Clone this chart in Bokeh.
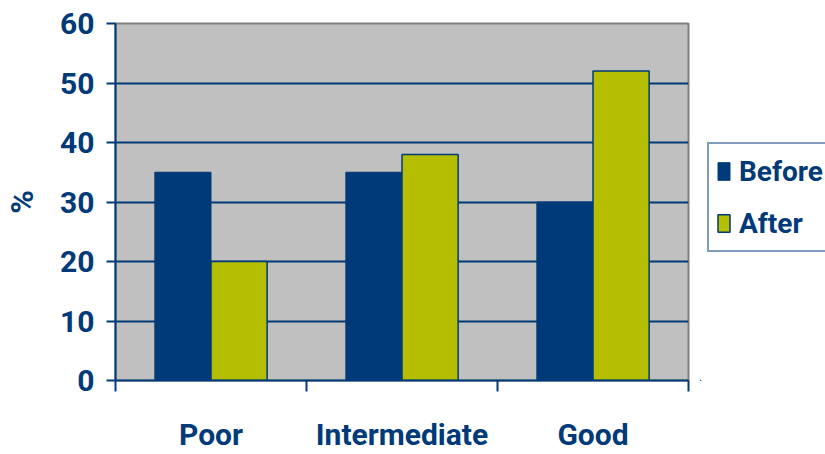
from bokeh.plotting import figure
from bokeh.layouts import row
from bokeh.models import Range1d, LinearAxis, FixedTicker, Legend, LegendItem, ColumnDataSource
from bokeh.transform import dodge
from bokeh.embed import file_html
from bokeh.resources import INLINE

categories = ["Poor", "Intermediate", "Good"]
before = [35, 35, 30]
after = [20, 38, 52]
y_ticks = [0, 10, 20, 30, 40, 50, 60]
series_names = ["Before", "After"]

NAVY = "#003A78"
GREEN = "#B5BE00"
GRAY = "#C0C0C0"
FONT = "Roboto"

n = len(categories)
centers = [i + 0.5 for i in range(n)]

p = figure(width=700, height=454, output_backend="svg", toolbar_location=None,
           x_range=Range1d(0, n), y_range=Range1d(0, 60),
           min_border_left=109, min_border_right=12, min_border_top=23, min_border_bottom=71,
           x_axis_location=None, y_axis_location=None)
p.background_fill_color = GRAY
p.border_fill_color = "white"
p.outline_line_color = "#808080"
p.outline_line_width = 2

src = ColumnDataSource(dict(x=centers, cat=categories, before=before, after=after))
p.vbar(x=dodge("x", -0.147), top="before", width=0.294, source=src,
       fill_color=NAVY, line_color=NAVY, line_width=1)
p.vbar(x=dodge("x", 0.147), top="after", width=0.294, source=src,
       fill_color=GREEN, line_color=NAVY, line_width=1.5)

# y axis
yax = LinearAxis(ticker=FixedTicker(ticks=y_ticks), axis_label="%")
yax.axis_line_color = NAVY
yax.axis_line_width = 2
yax.major_tick_line_color = NAVY
yax.major_tick_line_width = 2
yax.major_tick_out = 9
yax.major_tick_in = 0
yax.minor_tick_line_color = None
yax.major_label_text_font = FONT
yax.major_label_text_font_style = "bold"
yax.major_label_text_font_size = "30px"
yax.major_label_text_color = NAVY
yax.major_label_standoff = 12
yax.axis_label_text_font = FONT
yax.axis_label_text_font_style = "bold"
yax.axis_label_text_font_size = "32px"
yax.axis_label_text_color = NAVY
yax.axis_label_standoff = 16
p.add_layout(yax, "left")

# grid
p.ygrid.ticker = FixedTicker(ticks=y_ticks)
p.ygrid.grid_line_color = NAVY
p.ygrid.grid_line_width = 2
p.xgrid.grid_line_color = None

# x axis: labels at category centres, tick marks at category boundaries
xax = LinearAxis(ticker=FixedTicker(ticks=centers, minor_ticks=list(range(n + 1))),
                 major_label_overrides={c: lab for c, lab in zip(centers, categories)})
xax.axis_line_color = NAVY
xax.axis_line_width = 2
xax.major_tick_line_color = None
xax.major_tick_out = 0
xax.major_tick_in = 0
xax.minor_tick_line_color = NAVY
xax.minor_tick_line_width = 2
xax.minor_tick_out = 11
xax.minor_tick_in = 0
xax.major_label_text_font = FONT
xax.major_label_text_font_style = "bold"
xax.major_label_text_font_size = "30px"
xax.major_label_text_color = NAVY
xax.major_label_standoff = 25
p.add_layout(xax, "below")

# legend panel to the right of the chart (its glyphs are kept out of view)
q = figure(width=125, height=454, output_backend="svg", toolbar_location=None,
           x_range=Range1d(100, 101), y_range=Range1d(100, 101),
           min_border_left=0, min_border_right=0, min_border_top=0, min_border_bottom=0,
           x_axis_location=None, y_axis_location=None)
q.outline_line_color = None
q.grid.grid_line_color = None
q.background_fill_color = "white"
q.border_fill_color = "white"
lr1 = q.vbar(x="x", top="before", width=0.3, source=src,
             fill_color=NAVY, line_color=NAVY, line_width=1)
lr2 = q.vbar(x="x", top="after", width=0.3, source=src,
             fill_color=GREEN, line_color=NAVY, line_width=1.5)

legend = Legend(items=[LegendItem(label=series_names[0], renderers=[lr1]),
                       LegendItem(label=series_names[1], renderers=[lr2])],
                location=(7, 128))
legend.label_text_font = FONT
legend.label_text_font_style = "bold"
legend.label_text_font_size = "28px"
legend.label_text_color = NAVY
legend.glyph_width = 15
legend.glyph_height = 22
legend.label_height = 40
legend.label_standoff = 8
legend.padding = 7
legend.spacing = 12
legend.margin = 0
legend.border_line_color = NAVY
legend.border_line_width = 2
legend.background_fill_color = "white"
legend.background_fill_alpha = 1
q.add_layout(legend, "center")

layout = row(p, q, spacing=0)
open("out.html", "w").write(file_html(layout, INLINE))
